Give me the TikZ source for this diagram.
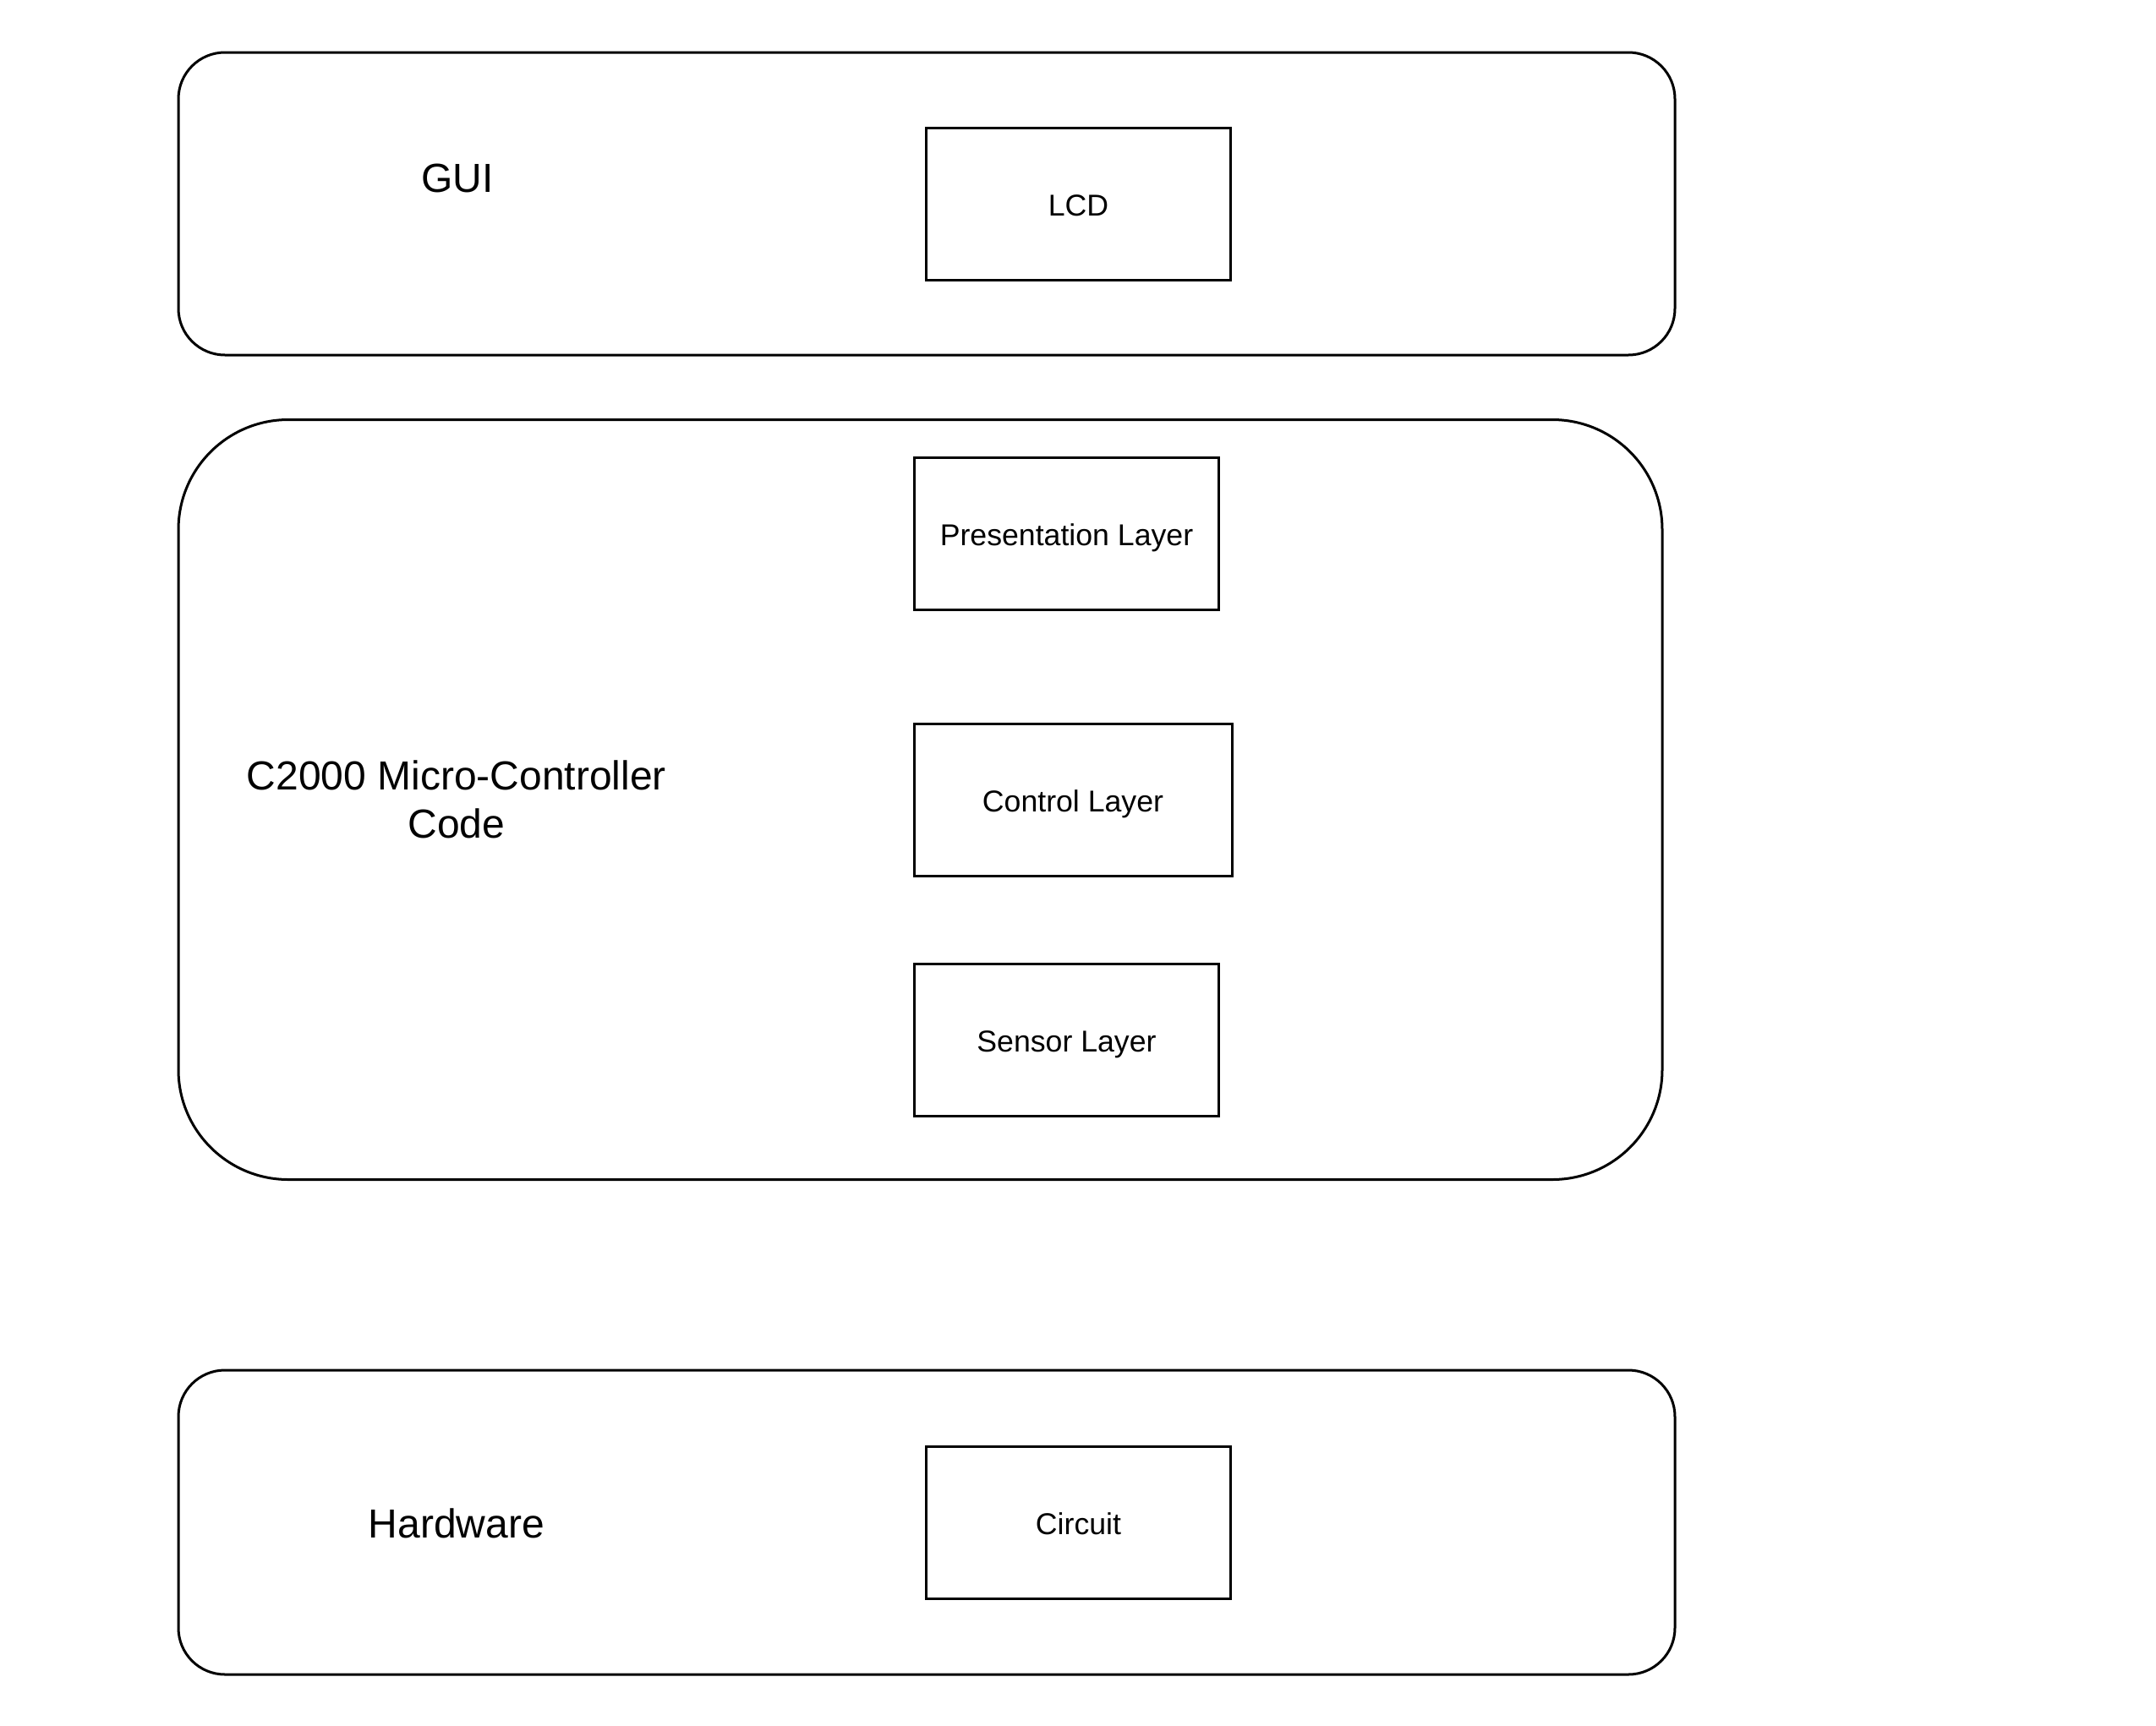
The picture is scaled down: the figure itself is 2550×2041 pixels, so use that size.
\documentclass[tikz,border=0pt]{standalone}
\usepackage{fontspec}
\setmainfont{Liberation Sans}
\usetikzlibrary{positioning}

\begin{document}
\begin{tikzpicture}[
  x=0.3pt, y=-0.3pt,
  every node/.style={inner sep=0pt, outer sep=0pt},
  group/.style={draw, line width=0.9pt, rounded corners=16.5pt},
  layer/.style={draw, line width=0.9pt, minimum width=108pt, minimum height=54pt,
    text height=0.86em, text depth=0pt, font=\fontsize{10.7}{13}\selectfont},
  grouplabel/.style={align=center, font=\fontsize{14.4}{17.2}\selectfont}
]
\useasboundingbox (0,0) rectangle (2550,2041);

% outer groups
\node[group, minimum width=531pt, minimum height=107.4pt] (gui) at (1096,241) {};
\node[group, rounded corners=39pt, minimum width=526.5pt, minimum height=269.7pt] (mcu) at (1088.5,946) {};
\node[group, minimum width=531pt, minimum height=108pt] (hw) at (1096,1801) {};

\node[grouplabel] (gui-label) at (541,211) {GUI};
\node[grouplabel] (mcu-label) at (540,946) {C2000 Micro-Controller\\Code};
\node[grouplabel] (hw-label) at (540,1802) {Hardware};

% layers
\node[layer] (lcd) at (1275.5,241.5) {LCD};
\node[layer] (presentation) at (1261.5,631) {Presentation Layer};
\node[layer, minimum width=112.8pt] (control) at (1269,946) {Control Layer};
\node[layer] (sensor) at (1261.5,1230.5) {Sensor Layer};
\node[layer] (circuit) at (1275.5,1801) {Circuit};
\end{tikzpicture}
\end{document}
